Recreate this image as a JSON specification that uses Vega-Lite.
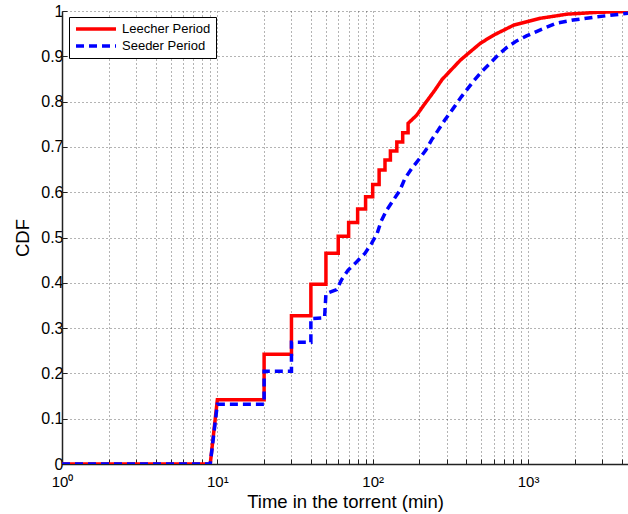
{
  "$schema": "https://vega.github.io/schema/vega-lite/v6.json",
  "width": 566,
  "height": 453,
  "autosize": {"type": "none"},
  "padding": {"left": 62, "top": 11, "right": 0, "bottom": 50},
  "background": "white",
  "config": {
    "view": {"stroke": null},
    "font": "Liberation Sans",
    "axis": {
      "labelFont": "Liberation Sans",
      "titleFont": "Liberation Sans",
      "labelColor": "#000",
      "titleColor": "#000",
      "labelFontSize": 15,
      "titleFontSize": 18.5,
      "titleFontWeight": "normal",
      "domainColor": "#222",
      "domainWidth": 1.5,
      "tickColor": "#222",
      "tickSize": -5,
      "gridColor": "#444",
      "gridDash": [1, 3],
      "gridWidth": 1,
      "gridOpacity": 0.8
    },
    "legend": {
      "labelFont": "Liberation Sans",
      "labelFontSize": 13,
      "labelColor": "#000"
    }
  },
  "data": {
    "values": [
      {"s": "Leecher Period", "i": 0, "t": 1, "c": 0},
      {"s": "Leecher Period", "i": 1, "t": 9, "c": 0},
      {"s": "Leecher Period", "i": 2, "t": 10, "c": 0.142},
      {"s": "Leecher Period", "i": 3, "t": 20, "c": 0.142},
      {"s": "Leecher Period", "i": 4, "t": 20, "c": 0.242},
      {"s": "Leecher Period", "i": 5, "t": 30, "c": 0.242},
      {"s": "Leecher Period", "i": 6, "t": 30, "c": 0.327},
      {"s": "Leecher Period", "i": 7, "t": 40, "c": 0.327},
      {"s": "Leecher Period", "i": 8, "t": 40, "c": 0.397},
      {"s": "Leecher Period", "i": 9, "t": 50, "c": 0.397},
      {"s": "Leecher Period", "i": 10, "t": 50, "c": 0.465},
      {"s": "Leecher Period", "i": 11, "t": 60, "c": 0.465},
      {"s": "Leecher Period", "i": 12, "t": 60, "c": 0.503},
      {"s": "Leecher Period", "i": 13, "t": 70, "c": 0.503},
      {"s": "Leecher Period", "i": 14, "t": 70, "c": 0.533},
      {"s": "Leecher Period", "i": 15, "t": 80, "c": 0.533},
      {"s": "Leecher Period", "i": 16, "t": 80, "c": 0.563},
      {"s": "Leecher Period", "i": 17, "t": 90, "c": 0.563},
      {"s": "Leecher Period", "i": 18, "t": 90, "c": 0.59},
      {"s": "Leecher Period", "i": 19, "t": 100, "c": 0.59},
      {"s": "Leecher Period", "i": 20, "t": 100, "c": 0.617},
      {"s": "Leecher Period", "i": 21, "t": 110, "c": 0.617},
      {"s": "Leecher Period", "i": 22, "t": 110, "c": 0.649},
      {"s": "Leecher Period", "i": 23, "t": 120, "c": 0.649},
      {"s": "Leecher Period", "i": 24, "t": 120, "c": 0.671},
      {"s": "Leecher Period", "i": 25, "t": 130, "c": 0.671},
      {"s": "Leecher Period", "i": 26, "t": 130, "c": 0.691},
      {"s": "Leecher Period", "i": 27, "t": 143, "c": 0.691},
      {"s": "Leecher Period", "i": 28, "t": 143, "c": 0.711},
      {"s": "Leecher Period", "i": 29, "t": 156, "c": 0.711},
      {"s": "Leecher Period", "i": 30, "t": 156, "c": 0.731},
      {"s": "Leecher Period", "i": 31, "t": 169, "c": 0.731},
      {"s": "Leecher Period", "i": 32, "t": 169, "c": 0.752},
      {"s": "Leecher Period", "i": 33, "t": 192, "c": 0.77},
      {"s": "Leecher Period", "i": 34, "t": 211, "c": 0.79},
      {"s": "Leecher Period", "i": 35, "t": 251, "c": 0.825},
      {"s": "Leecher Period", "i": 36, "t": 280, "c": 0.849},
      {"s": "Leecher Period", "i": 37, "t": 368, "c": 0.892},
      {"s": "Leecher Period", "i": 38, "t": 494, "c": 0.929},
      {"s": "Leecher Period", "i": 39, "t": 603, "c": 0.947},
      {"s": "Leecher Period", "i": 40, "t": 811, "c": 0.969},
      {"s": "Leecher Period", "i": 41, "t": 1204, "c": 0.984},
      {"s": "Leecher Period", "i": 42, "t": 1786, "c": 0.993},
      {"s": "Leecher Period", "i": 43, "t": 2786, "c": 0.997},
      {"s": "Leecher Period", "i": 44, "t": 4400, "c": 0.999},
      {"s": "Seeder Period", "i": 0, "t": 1, "c": 0},
      {"s": "Seeder Period", "i": 1, "t": 9, "c": 0},
      {"s": "Seeder Period", "i": 2, "t": 10, "c": 0.132},
      {"s": "Seeder Period", "i": 3, "t": 20, "c": 0.132},
      {"s": "Seeder Period", "i": 4, "t": 20, "c": 0.205},
      {"s": "Seeder Period", "i": 5, "t": 30, "c": 0.205},
      {"s": "Seeder Period", "i": 6, "t": 30, "c": 0.269},
      {"s": "Seeder Period", "i": 7, "t": 40, "c": 0.269},
      {"s": "Seeder Period", "i": 8, "t": 40, "c": 0.321},
      {"s": "Seeder Period", "i": 9, "t": 49, "c": 0.323},
      {"s": "Seeder Period", "i": 10, "t": 50, "c": 0.376},
      {"s": "Seeder Period", "i": 11, "t": 58.6, "c": 0.385},
      {"s": "Seeder Period", "i": 12, "t": 63.1, "c": 0.407},
      {"s": "Seeder Period", "i": 13, "t": 69.5, "c": 0.428},
      {"s": "Seeder Period", "i": 14, "t": 78.7, "c": 0.446},
      {"s": "Seeder Period", "i": 15, "t": 89.1, "c": 0.465},
      {"s": "Seeder Period", "i": 16, "t": 98.4, "c": 0.487},
      {"s": "Seeder Period", "i": 17, "t": 106.9, "c": 0.509},
      {"s": "Seeder Period", "i": 18, "t": 113, "c": 0.535},
      {"s": "Seeder Period", "i": 19, "t": 122.8, "c": 0.56},
      {"s": "Seeder Period", "i": 20, "t": 135.5, "c": 0.582},
      {"s": "Seeder Period", "i": 21, "t": 149.6, "c": 0.604},
      {"s": "Seeder Period", "i": 22, "t": 161.2, "c": 0.63},
      {"s": "Seeder Period", "i": 23, "t": 178, "c": 0.652},
      {"s": "Seeder Period", "i": 24, "t": 201, "c": 0.675},
      {"s": "Seeder Period", "i": 25, "t": 220, "c": 0.693},
      {"s": "Seeder Period", "i": 26, "t": 239, "c": 0.715},
      {"s": "Seeder Period", "i": 27, "t": 264, "c": 0.737},
      {"s": "Seeder Period", "i": 28, "t": 292, "c": 0.76},
      {"s": "Seeder Period", "i": 29, "t": 330, "c": 0.785},
      {"s": "Seeder Period", "i": 30, "t": 373, "c": 0.811},
      {"s": "Seeder Period", "i": 31, "t": 443, "c": 0.844},
      {"s": "Seeder Period", "i": 32, "t": 502, "c": 0.866},
      {"s": "Seeder Period", "i": 33, "t": 568, "c": 0.884},
      {"s": "Seeder Period", "i": 34, "t": 642, "c": 0.903},
      {"s": "Seeder Period", "i": 35, "t": 727, "c": 0.919},
      {"s": "Seeder Period", "i": 36, "t": 844, "c": 0.934},
      {"s": "Seeder Period", "i": 37, "t": 978, "c": 0.945},
      {"s": "Seeder Period", "i": 38, "t": 1191, "c": 0.958},
      {"s": "Seeder Period", "i": 39, "t": 1525, "c": 0.973},
      {"s": "Seeder Period", "i": 40, "t": 1950, "c": 0.98},
      {"s": "Seeder Period", "i": 41, "t": 2758, "c": 0.987},
      {"s": "Seeder Period", "i": 42, "t": 4400, "c": 0.995}
    ]
  },
  "mark": {"type": "line", "strokeWidth": 3.5, "clip": true},
  "encoding": {
    "x": {
      "field": "t",
      "type": "quantitative",
      "scale": {"type": "log", "domain": [1, 4400], "nice": false},
      "axis": {
        "title": "Time in the torrent (min)",
        "titlePadding": 3,
        "labelPadding": 15,
        "values": [1, 2, 3, 4, 5, 6, 7, 8, 9, 10, 20, 30, 40, 50, 60, 70, 80, 90, 100, 200, 300, 400, 500, 600, 700, 800, 900, 1000, 2000, 3000, 4000],
        "labelExpr": "datum.value == 1 ? '10⁰' : datum.value == 10 ? '10¹' : datum.value == 100 ? '10²' : datum.value == 1000 ? '10³' : ''",
        "labelFlush": false,
        "labelOverlap": false,
        "grid": true
      }
    },
    "y": {
      "field": "c",
      "type": "quantitative",
      "scale": {"domain": [0, 1], "nice": false},
      "axis": {
        "title": "CDF",
        "titlePadding": 8,
        "labelPadding": 4,
        "labelFontSize": 16,
        "values": [0, 0.1, 0.2, 0.3, 0.4, 0.5, 0.6, 0.7, 0.8, 0.9, 1],
        "format": ".1~f",
        "grid": true
      }
    },
    "order": {"field": "i", "type": "quantitative"},
    "color": {
      "field": "s",
      "type": "nominal",
      "scale": {"domain": ["Leecher Period", "Seeder Period"], "range": ["#ff0000", "#0000ff"]},
      "legend": {
        "title": null,
        "orient": "none",
        "legendX": 7,
        "legendY": 6,
        "fillColor": "white",
        "strokeColor": "#000",
        "padding": 5,
        "symbolType": "stroke",
        "symbolSize": 1600,
        "symbolStrokeWidth": 3.5,
        "clipHeight": 14,
        "rowPadding": 3,
        "labelOffset": 4
      }
    },
    "strokeDash": {
      "field": "s",
      "type": "nominal",
      "scale": {"domain": ["Leecher Period", "Seeder Period"], "range": [[1, 0], [8, 5]]},
      "legend": {
        "title": null,
        "orient": "none",
        "legendX": 7,
        "legendY": 6,
        "fillColor": "white",
        "strokeColor": "#000",
        "padding": 5,
        "symbolType": "stroke",
        "symbolSize": 1600,
        "symbolStrokeWidth": 3.5,
        "clipHeight": 14,
        "rowPadding": 3,
        "labelOffset": 4
      }
    }
  }
}
